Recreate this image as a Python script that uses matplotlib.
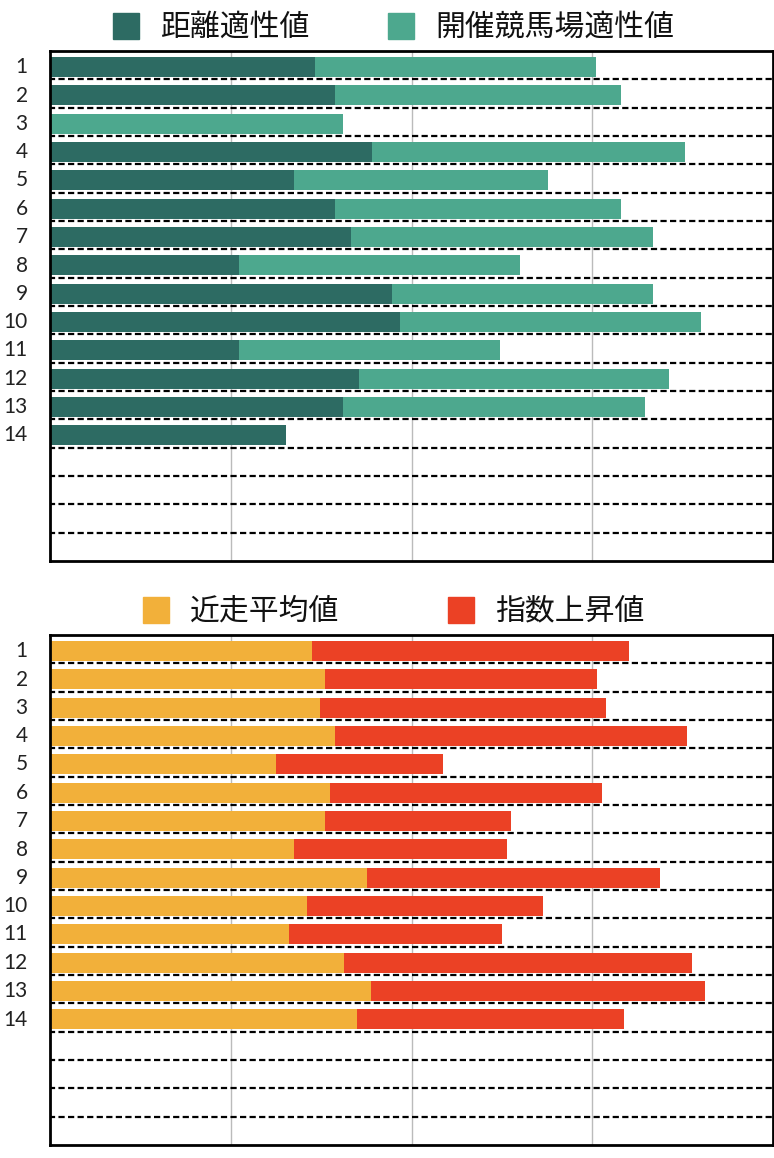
import matplotlib

matplotlib.use("Agg")
from matplotlib import pyplot as plt
from matplotlib.patches import Rectangle

plt.rcParams["font.family"] = ["Noto Sans CJK JP", "DejaVu Sans"]

ROWS = [str(i) for i in range(1, 15)]
N_SLOTS = 18

# top panel
distance_fit = [36.6, 39.4, 0, 44.5, 33.8, 39.4, 41.6, 26.1, 47.3, 48.4, 26.1, 42.7, 40.5, 32.7]
course_fit = [38.9, 39.6, 40.5, 43.3, 35.1, 39.6, 41.8, 38.9, 36.1, 41.6, 36.1, 42.9, 41.8, 0]

# bottom panel
recent_avg = [36.2, 38.1, 37.4, 39.4, 31.2, 38.7, 38.1, 33.7, 43.8, 35.6, 33.1, 40.6, 44.4, 42.4]
index_rise = [43.9, 37.5, 39.5, 48.7, 23.1, 37.6, 25.6, 29.5, 40.6, 32.6, 29.4, 48.2, 46.2, 37.0]

W, H = 774, 1158


def px_box(left, top, right, bottom):
    return [left / W, 1 - bottom / H, (right - left) / W, (bottom - top) / H]


def draw_panel(ax, first, second, c1, c2):
    ypos = [i + 0.57 for i in range(len(first))]
    ax.barh(ypos, first, height=0.706, color=c1, zorder=2)
    ax.barh(ypos, second, left=first, height=0.706, color=c2, zorder=2)
    for k in range(1, N_SLOTS):
        ax.axhline(k, color="black", lw=1.6, linestyle=(0.5, (2.8, 1.5)), zorder=3)
    ax.set_xlim(0, 100)
    ax.set_ylim(N_SLOTS, 0)
    ax.set_xticks([25, 50, 75])
    ax.set_xticklabels([])
    ax.tick_params(axis="x", length=0)
    ax.grid(axis="x", color="#bbbbbb", lw=1.0, zorder=0)
    ax.set_axisbelow(True)
    ax.set_yticks([i + 0.5 for i in range(len(ROWS))])
    ax.set_yticklabels(ROWS, fontsize=15, family=["Lato", "DejaVu Sans"], color="#222222")
    ax.tick_params(axis="y", length=0, pad=16)
    for s in ax.spines.values():
        s.set_linewidth(2.0)
        s.set_color("black")


def legend_item(fig, x, y, color, label):
    fig.patches.append(Rectangle((x / W, 1 - (y + 13) / H), 26 / W, 26 / H,
                                 transform=fig.transFigure, color=color))
    fig.text((x + 47) / W, 1 - (y + 1) / H, label, fontsize=21.5, va="center", ha="left",
             color="#111111")


fig = plt.figure(figsize=(W / 100, H / 100), dpi=100)
ax1 = fig.add_axes(px_box(50, 51, 773, 561))
ax2 = fig.add_axes(px_box(50, 635, 773, 1145))

draw_panel(ax1, distance_fit, course_fit, "#2d6b63", "#4da88e")
draw_panel(ax2, recent_avg, index_rise, "#f2b03a", "#eb4125")

legend_item(fig, 113, 26, "#2d6b63", "距離適性値")
legend_item(fig, 388, 26, "#4da88e", "開催競馬場適性値")
legend_item(fig, 143, 610, "#f2b03a", "近走平均値")
legend_item(fig, 448, 610, "#eb4125", "指数上昇値")

fig.savefig("out.png", dpi=100)
